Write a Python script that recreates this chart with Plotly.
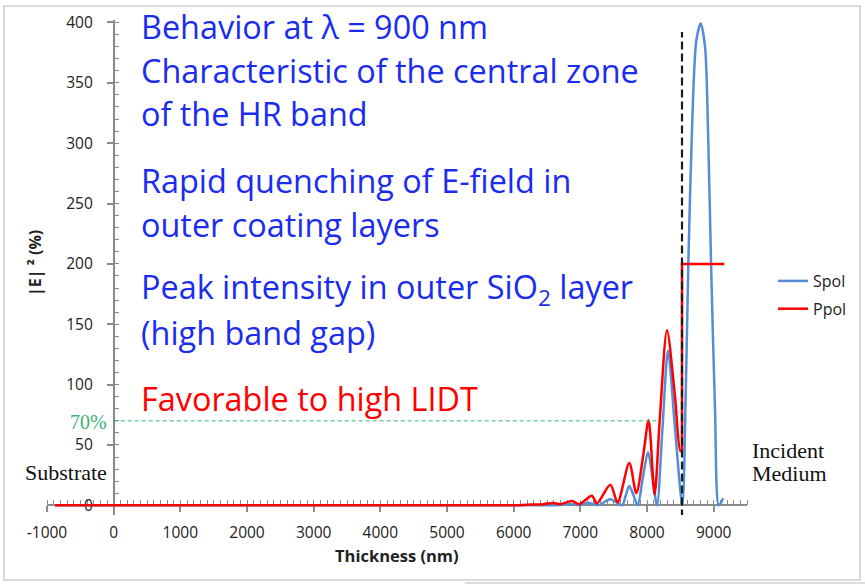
import plotly.graph_objects as go

# ---------------- data ----------------
spol_x = [-880, 6000, 6700, 6850, 6980, 7123, 7273, 7450, 7625, 7680, 7734, 7800, 7860,
          7935, 8015, 8085, 8150, 8232, 8315, 8420, 8530, 8580, 8620, 8680, 8740, 8805,
          8870, 8920, 8961, 9020, 9075, 9110, 9140]
spol_y = [0, 0, 0.3, 1, 0.2, 2, 0.2, 5, 0, 8, 16, 8, 0,
          22, 44, 22, 0, 64, 128, 64, 0, 90, 200, 320, 385, 399,
          380, 300, 200, 80, 0, 2, 6]

ppol_x = [-880, 6000, 6200, 6443, 6593, 6700, 6874, 6985, 7174, 7248, 7450, 7559, 7734,
          7840, 7940, 8024, 8114, 8190, 8300, 8420, 8500, 8525]
ppol_y = [0, 0, 0.5, 1, 2, 1, 3.5, 1, 8, 1.5, 17, 2.5, 35,
          10, 40, 70.5, 9, 70, 145, 90, 45, 46]
ppol_step_x = [8525, 8525, 9160]
ppol_step_y = [46, 200, 200]

divider_x = [8525, 8525]
divider_y = [-10, 392]
level70_x = [0, 8190]
level70_y = [70, 70]

x_ticks = [-1000, 0, 1000, 2000, 3000, 4000, 5000, 6000, 7000, 8000, 9000]
x_tick_text = ["-1000", "0", "1000", "2000", "3000", "4000", "5000", "6000", "7000", "8000", "9000"]
y_ticks = [0, 50, 100, 150, 200, 250, 300, 350, 400]

notes = [
    ("Behavior at λ = 900 nm", 36, "#1a2cf0"),
    ("Characteristic of the central zone", 80, "#1a2cf0"),
    ("of the HR band", 123, "#1a2cf0"),
    ("Rapid quenching of E-field in", 190, "#1a2cf0"),
    ("outer coating layers", 234, "#1a2cf0"),
    ("Peak intensity in outer SiO<sub>2</sub> layer", 299, "#1a2cf0"),
    ("(high band gap)", 342, "#1a2cf0"),
    ("Favorable to high LIDT", 408, "#ff0000"),
]

# ---------------- layout geometry ----------------
W_FIG, H_FIG = 865, 585
L, R, T, B = 47, 118, 20, 70
PW, PH = W_FIG - L - R, H_FIG - T - B
XR = [-1000, 9500]
YR = [-8, 402]


def px_x(px):
    return (px - L) / PW


def px_y(py):
    return 1 - (py - T) / PH


SANS = "'Open Sans', Lato, sans-serif"
SERIF = "'Liberation Serif', 'DejaVu Serif', serif"
BLUE_LINE = "#558ed5"
NOTE_SIZE = 32.4

fig = go.Figure()
fig.add_trace(go.Scatter(x=spol_x, y=spol_y, mode="lines", name="Spol",
                         line=dict(color=BLUE_LINE, width=2.5, shape="spline", smoothing=0.8),
                         legendgroup="s"))
fig.add_trace(go.Scatter(x=ppol_x, y=ppol_y, mode="lines", name="Ppol",
                         line=dict(color="#ff0000", width=2.5, shape="spline", smoothing=0.8),
                         legendgroup="p"))
fig.add_trace(go.Scatter(x=ppol_step_x, y=ppol_step_y, mode="lines", name="Ppol",
                         line=dict(color="#ff0000", width=2.5), legendgroup="p", showlegend=False))
fig.add_trace(go.Scatter(x=divider_x, y=divider_y, mode="lines", showlegend=False,
                         line=dict(color="#1a1a1a", width=2.2, dash="8px,4px")))
fig.add_trace(go.Scatter(x=level70_x, y=level70_y, mode="lines", showlegend=False,
                         line=dict(color="#3cb371", width=1, dash="4px,3px")))

annotations = []
for txt, base, col in notes:
    s = NOTE_SIZE
    annotations.append(dict(text=txt, xref="paper", yref="paper", x=px_x(139),
                            y=px_y(base - 0.32 * s), xanchor="left", yanchor="middle",
                            showarrow=False, font=dict(family=SANS, size=s, color=col)))

annotations += [
    dict(text="70%", xref="paper", yref="paper", x=px_x(109), y=px_y(422), xanchor="right",
         yanchor="middle", showarrow=False, font=dict(family=SERIF, size=20, color="#3cb371")),
    dict(text="Substrate", xref="paper", yref="paper", x=px_x(109), y=px_y(472), xanchor="right",
         yanchor="middle", showarrow=False, font=dict(family=SERIF, size=22, color="#111111")),
    dict(text="Incident", xref="paper", yref="paper", x=px_x(788), y=px_y(450),
         xanchor="center", yanchor="middle", showarrow=False,
         font=dict(family=SERIF, size=22, color="#111111")),
    dict(text="Medium", xref="paper", yref="paper", x=px_x(789), y=px_y(473),
         xanchor="center", yanchor="middle", showarrow=False,
         font=dict(family=SERIF, size=22, color="#111111")),
    dict(text="Thickness (nm)", xref="paper", yref="paper", x=px_x(397), y=px_y(555),
         xanchor="center", yanchor="middle", showarrow=False,
         font=dict(family=SANS, size=16.5, color="#222222", weight="bold")),
    dict(text="|E| ² (%)", xref="paper", yref="paper", x=px_x(35), y=px_y(263),
         xanchor="center", yanchor="middle", showarrow=False, textangle=-90,
         font=dict(family=SANS, size=16, color="#222222", weight="bold")),
]

shapes = [
    dict(type="rect", xref="paper", yref="paper", x0=px_x(4), x1=px_x(860), y0=px_y(6), y1=px_y(580),
         line=dict(color="#cfcfcf", width=1.5), layer="below"),
    dict(type="line", xref="paper", yref="paper", x0=px_x(465), x1=px_x(865), y0=px_y(583), y1=px_y(583),
         line=dict(color="#bbbbbb", width=1)),
]

AX_COL = "#8a8a8a"
fig.update_layout(
    width=W_FIG, height=H_FIG,
    margin=dict(l=L, r=R, t=T, b=B),
    paper_bgcolor="white", plot_bgcolor="white",
    font=dict(family=SANS, size=15, color="#222222"),
    xaxis=dict(range=XR, tickvals=x_ticks, ticktext=x_tick_text, ticks="outside", ticklen=6,
               tickcolor=AX_COL, tickwidth=1.5, layer="below traces",
               showline=True, linecolor=AX_COL, linewidth=1.5, showgrid=False, zeroline=False,
               anchor="free", position=(0 - YR[0]) / (YR[1] - YR[0]), ticklabelstandoff=7,
               minor=dict(dtick=100, ticks="inside", ticklen=5, tickcolor=AX_COL, tickwidth=1.2),
               tickfont=dict(family=SANS, size=15.5, color="#222222")),
    yaxis=dict(range=YR, tickvals=y_ticks, ticks="outside", ticklen=6, tickcolor=AX_COL, tickwidth=1.5,
               layer="below traces",
               showline=True, linecolor=AX_COL, linewidth=1.5, showgrid=False, zeroline=False,
               anchor="free", position=(0 - XR[0]) / (XR[1] - XR[0]), ticklabelstandoff=11,
               minor=dict(dtick=10, ticks="inside", ticklen=5, tickcolor=AX_COL, tickwidth=1.2),
               tickfont=dict(family=SANS, size=15.5, color="#222222")),
    legend=dict(x=px_x(773), y=px_y(264), xanchor="left", yanchor="top", traceorder="grouped",
                tracegroupgap=4, itemwidth=30, bgcolor="rgba(0,0,0,0)",
                font=dict(family=SANS, size=16, color="#222222")),
    annotations=annotations,
    shapes=shapes,
)

fig.write_html("out.html")
